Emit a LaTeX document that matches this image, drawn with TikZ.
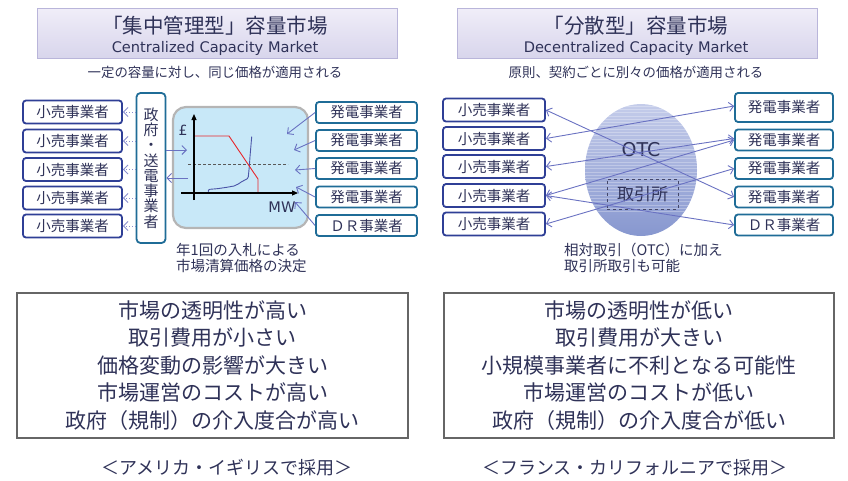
\documentclass[tikz,border=0pt]{standalone}
\usepackage{fontspec}
\setmainfont{Noto Sans CJK JP}
\newfontfamily\lat{DejaVu Sans}
\usetikzlibrary{arrows.meta,shapes.geometric}
\newcommand\myfs[1]{\fontsize{#1}{#1}\selectfont}
\definecolor{textc}{HTML}{2F3258}
\definecolor{retailc}{HTML}{2F3F96}
\definecolor{genc}{HTML}{1F6C97}
\definecolor{arrc}{HTML}{6A72C2}
\definecolor{chartfill}{HTML}{C8E8F8}
\definecolor{chartdraw}{HTML}{B5B5B5}
\definecolor{redc}{HTML}{E8262B}
\definecolor{curvec}{HTML}{4B55A8}
\definecolor{titletop}{HTML}{F0EEF8}
\definecolor{titlebot}{HTML}{D8D5EC}
\definecolor{titleb}{HTML}{B9B5DA}
\definecolor{ovtop}{HTML}{C4CCEA}
\definecolor{ovmid}{HTML}{A8B4DE}
\definecolor{ovbot}{HTML}{8797CF}
\begin{document}
\begin{tikzpicture}[x=1pt,y=-1pt,
  box/.style={rounded corners=3pt, line width=1.8pt, fill=white, inner sep=0pt, text=textc, font=\myfs{14.5}},
  retail/.style={box, draw=retailc, minimum width=99pt, minimum height=23pt},
  retailr/.style={box, draw=retailc, minimum width=102pt, minimum height=23pt},
  gen/.style={box, draw=genc, minimum width=101pt, minimum height=21pt},
  genr/.style={box, draw=genc, minimum width=98pt, minimum height=21pt},
  titlebox/.style={draw=titleb, line width=0.8pt, top color=titletop, bottom color=titlebot, minimum width=360pt, minimum height=50pt, inner sep=0pt},
  titletxt/.style={text=textc, font=\myfs{20.5}, inner sep=0pt},
  entxt/.style={text=textc, font=\lat\myfs{14.6}, inner sep=0pt},
  subtxt/.style={text=textc, font=\myfs{13.4}, inner sep=0pt},
  conn/.style={draw=arrc, line width=0.9pt, -{Straight Barb[length=4.5pt,width=9pt]}},
  dconn/.style={draw=arrc, line width=0.9pt, {Straight Barb[length=4.5pt,width=9pt]}-{Straight Barb[length=4.5pt,width=9pt]}},
  dotconn/.style={conn, dotted, draw=arrc!80},
  sumbox/.style={draw=black!60, line width=1.2pt, fill=white, minimum height=145pt, inner sep=0pt, align=center, text=textc, font=\fontsize{21}{27.6}\selectfont},
  foot/.style={text=textc, font=\myfs{18}, inner sep=0pt},
  note/.style={text=textc, font=\fontsize{14.5}{16}\selectfont, inner sep=0pt, align=left, anchor=north west}
]
\useasboundingbox (0,0) rectangle (848,480);

% ---------- titles ----------
\node[titlebox] (tl) at (217,33) {};
\node[titletxt] (tlt) at (215,26) {「集中管理型」容量市場};
\node[entxt] (tle) at (215,48) {Centralized Capacity Market};
\node[subtxt] (tls) at (215,72) {一定の容量に対し、同じ価格が適用される};

\node[titlebox] (tr) at (637,33) {};
\node[titletxt] (trt) at (636,26) {「分散型」容量市場};
\node[entxt] (tre) at (636,48) {Decentralized Capacity Market};
\node[subtxt] (trs) at (636,72) {原則、契約ごとに別々の価格が適用される};

% ---------- left: centralized ----------
\node[retail] (L1) at (72.5,112) {小売事業者};
\node[retail] (L2) at (72.5,141) {小売事業者};
\node[retail] (L3) at (72.5,169.5) {小売事業者};
\node[retail] (L4) at (72.5,198) {小売事業者};
\node[retail] (L5) at (72.5,226) {小売事業者};

\node[box, draw=genc, rounded corners=4pt, minimum width=29pt, minimum height=150pt, align=center, font=\fontsize{15}{15.3}\selectfont] (gov) at (151,168) {政\\府\\・\\送\\電\\事\\業\\者};

\foreach \i in {1,...,5} \draw[dotconn] (gov.west |- L\i.east) -- (L\i.east);

\node[draw=chartdraw, line width=2.2pt, fill=chartfill, rounded corners=13pt, minimum width=135pt, minimum height=121pt, inner sep=0pt] (chart) at (240.5,167.5) {};

% chart content
\draw[dashed, dash pattern=on 3pt off 2pt, draw=black!65, line width=0.9pt] (188,164) -- (288,164);
\draw[curvec, line width=0.9pt] (208.3,191.7) -- (208.5,190) -- (210,189.3) -- (218,188.6) -- (226.7,187.3) -- (234,186) -- (238.3,184) -- (241.7,181.7) -- (247.3,178.7) -- (248.3,176.7) -- (249.3,166.7) -- (250,156.7) -- (251.7,136.7);
\draw[redc, line width=0.9pt] (195,136) -- (229,136) -- (258,179) -- (258,193);
\draw[black, line width=1.1pt, -{Triangle[length=6pt,width=5pt]}] (194,200) -- (194,114);
\draw[black, line width=1.1pt, -{Triangle[length=6pt,width=5pt]}] (181,193) -- (298,193);
\node[text=textc, font=\lat\myfs{14}, inner sep=0pt] (pound) at (183,130) {£};
\node[text=textc, font=\lat\myfs{14.6}, inner sep=0pt] (mw) at (282,207) {MW};

\coordinate (ci1) at (187,150);
\coordinate (ci2) at (188,178);
\draw[conn] (gov.east |- ci1) -- (ci1);
\draw[conn] (ci2) -- (gov.east |- ci2);

\node[gen] (G1) at (366.5,112.5) {発電事業者};
\node[gen] (G2) at (366.5,140.5) {発電事業者};
\node[gen] (G3) at (366.5,168.5) {発電事業者};
\node[gen] (G4) at (366.5,197) {発電事業者};
\node[gen] (G5) at (366.5,225.5) {ＤＲ事業者};

\coordinate (g1t) at (287,134);
\coordinate (g2t) at (294,150);
\coordinate (g3t) at (295,170);
\coordinate (g4t) at (296,187);
\coordinate (g5t) at (295,202);
\foreach \i in {1,...,5} \draw[conn] (G\i.west) -- (g\i t);

\node[note] (lnote) at (176,243) {年1回の入札による\\市場清算価格の決定};

% ---------- right: decentralized ----------
\node[retailr] (R1) at (494,110) {小売事業者};
\node[retailr] (R2) at (494,138.5) {小売事業者};
\node[retailr] (R3) at (494,166.5) {小売事業者};
\node[retailr] (R4) at (494,195.5) {小売事業者};
\node[retailr] (R5) at (494,224) {小売事業者};

\node[ellipse, minimum width=112pt, minimum height=132pt, inner sep=0pt, top color=ovtop, middle color=ovmid, bottom color=ovbot] (otc) at (641,170) {};
\begin{scope}
  \clip (otc.center) ellipse [x radius=56pt, y radius=66pt];
  \foreach \yy in {106,109.3,...,212} \draw[white, opacity=0.28, line width=0.7pt] (580,\yy) -- (700,\yy);
\end{scope}
\node[text=textc, font=\lat\myfs{19}, inner sep=0pt] (otct) at (641,150) {OTC};
\node[draw=textc!90, dashed, line width=0.9pt, minimum width=71pt, minimum height=30pt, inner sep=0pt, text=textc, font=\myfs{17}] (exch) at (642.5,194) {取引所};

\node[genr] (H1) at (784,107.5) [minimum height=29pt] {発電事業者};
\node[genr] (H2) at (784,140) {発電事業者};
\node[genr] (H3) at (784,168.5) {発電事業者};
\node[genr] (H4) at (784,197) {発電事業者};
\node[genr] (H5) at (784,225) {ＤＲ事業者};

\draw[dconn] (R1.east) -- (H4.west);
\draw[dconn] (R2.east) -- ([yshift=1.5pt]H1.west);
\draw[dconn] (R3.east) -- ([yshift=1.5pt]H2.west);
\draw[dconn] (R4.east) -- (H2.west);
\draw[dconn] (R4.east) -- (H5.west);
\draw[dconn] (R5.east) -- (H3.west);

\node[note] (rnote) at (564,243) {相対取引（OTC）に加え\\取引所取引も可能};

% ---------- summaries ----------
\node[sumbox, minimum width=391pt] (bl) at (212.5,365.5) {市場の透明性が高い\\取引費用が小さい\\価格変動の影響が大きい\\市場運営のコストが高い\\政府（規制）の介入度合が高い};
\node[sumbox, minimum width=390pt] (br) at (639,365.5) {市場の透明性が低い\\取引費用が大きい\\小規模事業者に不利となる可能性\\市場運営のコストが低い\\政府（規制）の介入度合が低い};

\node[foot] (fl) at (227,468) {＜アメリカ・イギリスで採用＞};
\node[foot] (fr) at (635,468) {＜フランス・カリフォルニアで採用＞};
\end{tikzpicture}
\end{document}
